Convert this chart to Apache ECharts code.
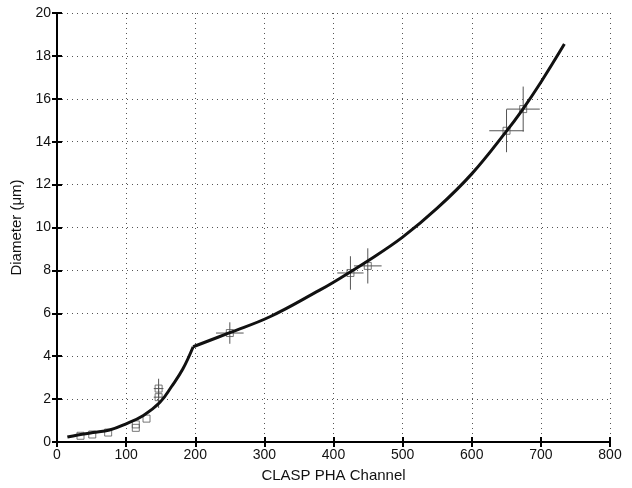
<!DOCTYPE html>
<html><head><meta charset="utf-8">
<script src="https://cdn.jsdelivr.net/npm/echarts@6/dist/echarts.min.js"></script>
<style>html,body{margin:0;padding:0;background:#fff}#c{width:632px;height:488px}</style>
</head><body><div id="c"></div>
<script>
// Fitted calibration curve (two segments joined at the kink)
const curveLowX = [15, 30, 52, 76, 100, 125, 149, 166, 182, 197];
const curveLowY = [0.23, 0.33, 0.44, 0.56, 0.85, 1.24, 1.85, 2.6, 3.4, 4.44];
const curveHighX = [197, 250, 308, 380, 400, 450, 500, 550, 600, 650, 674, 700, 734];
const curveHighY = [4.44, 5.1, 5.84, 7.08, 7.45, 8.45, 9.55, 10.9, 12.5, 14.48, 15.52, 16.77, 18.55];
// Measured points and their error half-widths
const ptX = [34, 51, 74, 114, 114, 129.5, 147, 147, 250, 424.5, 449.6, 650.3, 674.4];
const ptY = [0.29, 0.35, 0.44, 0.66, 0.82, 1.09, 2.49, 2.09, 5.08, 7.88, 8.21, 14.51, 15.52];
const errX = [0, 0, 0, 0, 0, 0, 7, 7, 20, 19, 20, 25, 24];
const errY = [0, 0, 0, 0, 0, 0, 0.46, 0.5, 0.5, 0.78, 0.82, 1.0, 1.05];
const xTicks = [0, 100, 200, 300, 400, 500, 600, 700, 800];
const yTicks = [0, 2, 4, 6, 8, 10, 12, 14, 16, 18, 20];

const font = 'Liberation Sans, Arial, Helvetica, sans-serif';
const chart = echarts.init(document.getElementById('c'));
const zip = (a, b) => a.map((v, i) => [v, b[i]]);
const errData = ptX.map((x, i) => [x, ptY[i], errX[i], errY[i]]);
const axisLineStyle = {color: '#000', width: 2};
const splitStyle = {show: true, lineStyle: {color: '#555', width: 1, type: [1, 4]}};

chart.setOption({
  animation: false,
  backgroundColor: '#fff',
  grid: {left: 57, right: 22, top: 13, bottom: 39},
  xAxis: [{
    type: 'value', min: 0, max: 800, interval: 100,
    name: 'CLASP PHA Channel', nameLocation: 'middle', nameGap: 26,
    nameTextStyle: {fontFamily: font, fontSize: 15, color: '#111'},
    axisLine: {lineStyle: axisLineStyle},
    axisTick: {inside: true, length: 5, lineStyle: {color: '#000', width: 2}},
    axisLabel: {fontFamily: font, fontSize: 14, color: '#111', margin: 6,
      formatter: v => xTicks.includes(v) ? String(v) : ''},
    splitLine: splitStyle
  }, {
    type: 'value', min: 0, max: 800, interval: 100, position: 'top',
    axisLine: {lineStyle: axisLineStyle},
    axisTick: {inside: true, length: 5, lineStyle: {color: '#000', width: 2}},
    axisLabel: {show: false}, splitLine: {show: false}
  }],
  yAxis: [{
    type: 'value', min: 0, max: 20, interval: 2,
    name: 'Diameter (μm)', nameLocation: 'middle', nameGap: 27,
    nameTextStyle: {fontFamily: font, fontSize: 15, color: '#111'},
    axisLine: {lineStyle: axisLineStyle},
    axisTick: {inside: true, length: 5, lineStyle: {color: '#000', width: 2}},
    axisLabel: {fontFamily: font, fontSize: 14, color: '#111', margin: 6,
      formatter: v => yTicks.includes(v) ? String(v) : ''},
    splitLine: splitStyle
  }, {
    type: 'value', min: 0, max: 20, interval: 2, position: 'right',
    axisLine: {lineStyle: axisLineStyle},
    axisTick: {inside: true, length: 5, lineStyle: {color: '#000', width: 2}},
    axisLabel: {show: false}, splitLine: {show: false}
  }],
  series: [
    {
      type: 'custom', data: errData, z: 3,
      renderItem: (params, api) => {
        const x = api.value(0), y = api.value(1), ex = api.value(2), ey = api.value(3);
        const children = [];
        const style = {stroke: '#555', lineWidth: 1};
        if (ex > 0) {
          const a = api.coord([x - ex, y]), b = api.coord([x + ex, y]);
          children.push({type: 'line', shape: {x1: a[0], y1: a[1], x2: b[0], y2: b[1]}, style});
        }
        if (ey > 0) {
          const a = api.coord([x, y - ey]), b = api.coord([x, y + ey]);
          children.push({type: 'line', shape: {x1: a[0], y1: a[1], x2: b[0], y2: b[1]}, style});
        }
        return {type: 'group', children};
      }
    },
    {
      type: 'scatter', data: zip(ptX, ptY), symbol: 'rect', symbolSize: 7, z: 4,
      itemStyle: {color: 'rgba(255,255,255,0)', borderColor: '#555', borderWidth: 1}
    },
    {
      type: 'line', data: zip(curveLowX, curveLowY), smooth: 0.4,
      showSymbol: false, z: 5, lineStyle: {color: '#111', width: 3}
    },
    {
      type: 'line', data: zip(curveHighX, curveHighY), smooth: 0.4,
      showSymbol: false, z: 5, lineStyle: {color: '#111', width: 3}
    }
  ]
});
</script>
</body></html>
